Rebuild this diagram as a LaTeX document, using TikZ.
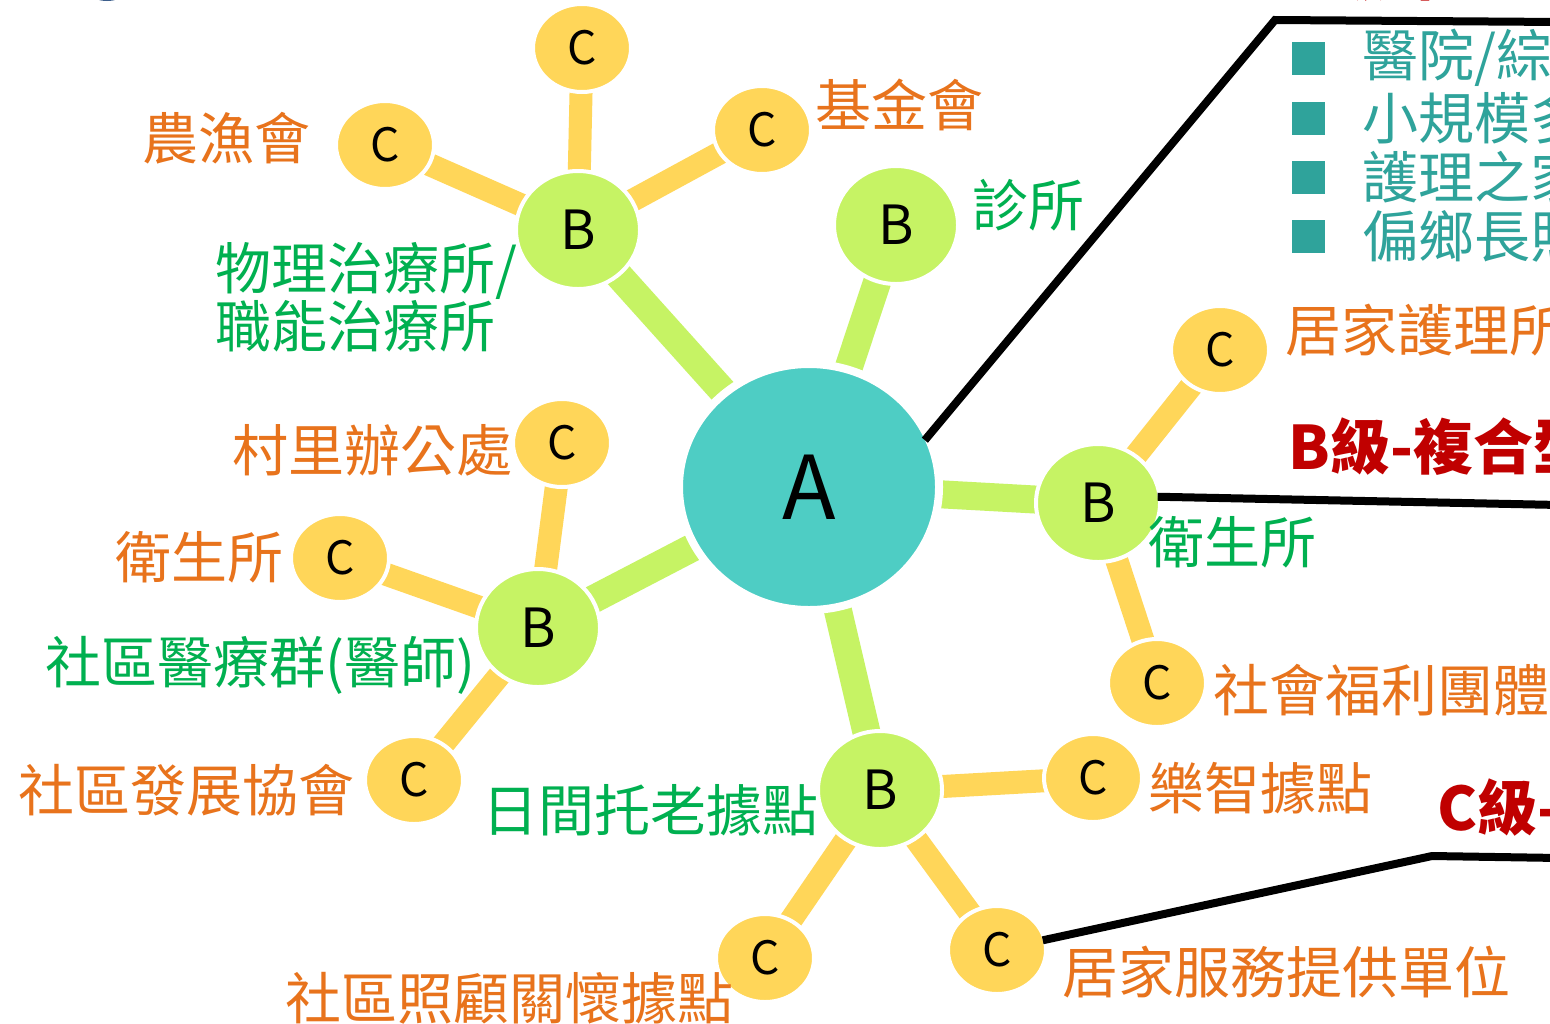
\documentclass[tikz,border=0pt]{standalone}
\usepackage{fontspec}
\setmainfont{Noto Sans CJK TC}
\usetikzlibrary{shapes.geometric,backgrounds}

\definecolor{hubAfill}{HTML}{4ECDC4}
\definecolor{hubBfill}{HTML}{C6F364}
\definecolor{hubCfill}{HTML}{FFD659}
\definecolor{lblorange}{HTML}{E8731C}
\definecolor{lblgreen}{HTML}{00B050}
\definecolor{lblteal}{HTML}{2FA39B}
\definecolor{lvlred}{HTML}{C00000}
\definecolor{iconblue}{HTML}{3D5F8C}

\tikzset{
  hubA/.style={ellipse, fill=hubAfill, draw=white, line width=4pt,
    minimum width=130pt, minimum height=123pt, inner sep=0pt, outer sep=-2pt,
    font=\fontsize{44}{44}\selectfont},
  hubB/.style={ellipse, fill=hubBfill, draw=white, line width=2pt,
    minimum width=62pt, minimum height=59pt, inner sep=0pt, outer sep=-1pt,
    font=\fontsize{27}{27}\selectfont},
  hubC/.style={ellipse, fill=hubCfill, draw=white, line width=2pt,
    minimum width=49pt, minimum height=44pt, inner sep=0pt, outer sep=-1pt,
    font=\fontsize{23}{23}\selectfont},
  barAB/.style={line width=14pt, draw=hubBfill},
  barBC/.style={line width=11.5pt, draw=hubCfill},
  lbl/.style={anchor=west, inner sep=0pt, font=\fontsize{28}{29}\selectfont},
  orangelbl/.style={lbl, text=lblorange},
  greenlbl/.style={lbl, text=lblgreen},
  teallbl/.style={lbl, text=lblteal},
  levellbl/.style={anchor=west, inner sep=0pt, text=lvlred,
    font=\fontsize{30}{30}\selectfont\bfseries},
  bullet/.style={fill=lblteal, draw=none, minimum size=16.5pt, inner sep=0pt},
  calloutline/.style={line width=4pt, draw=black, line join=miter}
}

\begin{document}
\begin{tikzpicture}[x=0.5pt,y=-0.5pt]
\useasboundingbox (0,0) rectangle (1550,1023);
\clip (0,0) rectangle (1550,1023);

% partial icon at the top edge
\fill[iconblue] (107,-27) ellipse [x radius=15pt, y radius=14pt];

% hub
\node[hubA] (A) at (809,487) {A};

% second level
\node[hubB] (B1) at (578,230) {B};
\node[hubB] (B2) at (896,225) {B};
\node[hubB] (B3) at (1098,503) {B};
\node[hubB] (B4) at (538,628) {B};
\node[hubB] (B5) at (880,790) {B};

% third level
\node[hubC] (C1) at (582,48) {C};
\node[hubC] (C2) at (762,130) {C};
\node[hubC] (C3) at (385,145) {C};
\node[hubC] (C4) at (562,443) {C};
\node[hubC] (C5) at (340,558) {C};
\node[hubC] (C6) at (414,780) {C};
\node[hubC] (C7) at (765,958) {C};
\node[hubC] (C8) at (997,950) {C};
\node[hubC] (C9) at (1093,778) {C};
\node[hubC] (C10) at (1157,683) {C};
\node[hubC] (C11) at (1220,350) {C};

% spokes, kept behind the nodes
\begin{pgfonlayer}{background}
  \fill[white] (0,0) rectangle (1550,1023);
  \foreach \b in {B1,B2,B3,B4,B5}
    \draw[barAB] (A.center) -- (\b.center);
  \draw[barBC] (B1.center) -- (C1.center);
  \draw[barBC] (B1.center) -- (C2.center);
  \draw[barBC] (B1.center) -- (C3.center);
  \draw[barBC] (B4.center) -- (C4.center);
  \draw[barBC] (B4.center) -- (C5.center);
  \draw[barBC] (B4.center) -- (C6.center);
  \draw[barBC] (B5.center) -- (C7.center);
  \draw[barBC] (B5.center) -- (C8.center);
  \draw[barBC] (B5.center) -- (C9.center);
  \draw[barBC] (B3.center) -- (C10.center);
  \draw[barBC] (B3.center) -- (C11.center);
\end{pgfonlayer}

% labels
\node[orangelbl] (l3) at (142,138) {農漁會};
\node[orangelbl] (l2) at (815,105) {基金會};
\node[greenlbl] (lb2) at (972,205) {診所};
\node[greenlbl, align=left] (lb1) at (215,297) {物理治療所/\\職能治療所};
\node[orangelbl] (l4) at (232,450) {村里辦公處};
\node[orangelbl] (l5) at (115,557) {衛生所};
\node[greenlbl] (lb4) at (45,665) {社區醫療群(醫師)};
\node[orangelbl] (l6) at (18,790) {社區發展協會};
\node[greenlbl] (lb5) at (482,810) {日間托老據點};
\node[orangelbl] (l7) at (285,998) {社區照顧關懷據點};
\node[orangelbl] (l8) at (1062,972) {居家服務提供單位};
\node[orangelbl] (l9) at (1148,788) {樂智據點};
\node[orangelbl] (l10) at (1213,690) {社會福利團體};
\node[greenlbl] (lb3) at (1148,542) {衛生所};
\node[orangelbl] (l11) at (1285,330) {居家護理所};

% level headings
\node[levellbl] (hA) at (1288,-27) {A級-社區整合型服務中心};
\node[levellbl] (hB) at (1288,447) {B級-複合型服務中心};
\node[levellbl] (hC) at (1437,808) {C級-巷弄長照站};

% list of A-level units
\foreach \yy/\txt [count=\i] in {58/{醫院/綜合診所}, 118/{小規模多機能}, 177/{護理之家}, 236/{偏鄉長照}}{
  \node[bullet] (sq\i) at (1308,\yy) {};
  \node[teallbl] (it\i) at (1362,\yy) {\txt};
}

% callout lines
\coordinate (kA1) at (1275,20);
\coordinate (kA2) at (1560,22);
\coordinate (kB) at (1560,505);
\coordinate (kC1) at (1432,856);
\coordinate (kC2) at (1560,858);
\draw[calloutline] (A.22) -- (kA1) -- (kA2);
\draw[calloutline] (B3.6) -- (kB);
\draw[calloutline] (C8.12) -- (kC1) -- (kC2);
\end{tikzpicture}
\end{document}
